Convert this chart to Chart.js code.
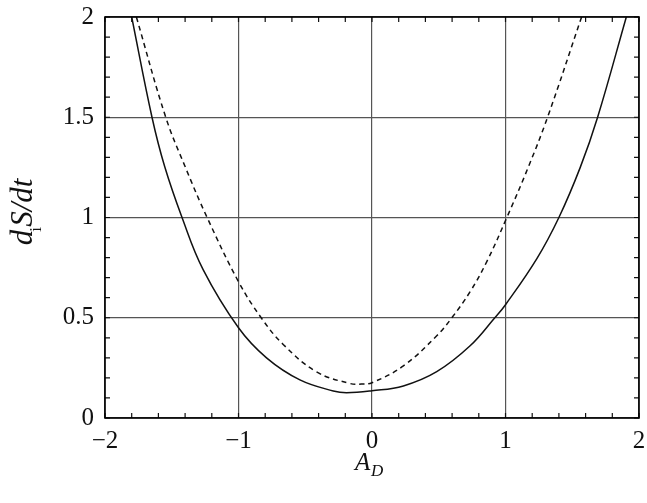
<!DOCTYPE html>
<html>
<head>
<meta charset="utf-8">
<script src="https://cdn.jsdelivr.net/npm/chart.js@4.4.1/dist/chart.umd.min.js"></script>
<style>
  html, body { margin: 0; padding: 0; background: #fff; }
  #wrap { width: 647px; height: 503px; }
</style>
</head>
<body>
<div id="wrap"><canvas id="chart" width="647" height="503"></canvas></div>
<script>
// values
const solidX = [-1.80, -1.648, -1.553, -1.423, -1.265, -1.0, -0.79, -0.54, -0.29, -0.19, 0, 0.235, 0.485, 0.735, 0.92, 1.0, 1.235, 1.40, 1.56, 1.69, 1.905];
const solidY = [2.0, 1.5, 1.254, 1.0, 0.74, 0.45, 0.30, 0.19, 0.135, 0.126, 0.136, 0.16, 0.231, 0.36, 0.5, 0.565, 0.795, 1.0, 1.25, 1.5, 2.0];
const dashX = [-1.765, -1.545, -1.40, -1.235, -1.0, -0.83, -0.665, -0.415, -0.165, -0.08, 0, 0.235, 0.485, 0.598, 0.735, 0.86, 1.01, 1.17, 1.315, 1.57];
const dashY = [2.0, 1.5, 1.254, 1.0, 0.68, 0.5, 0.367, 0.23, 0.172, 0.169, 0.176, 0.26, 0.41, 0.5, 0.63, 0.78, 1.0, 1.25, 1.5, 2.0];
const xTicks = [-2, -1, 0, 1, 2];
const yTicks = [0, 0.5, 1, 1.5, 2];

const serif = '"Liberation Serif"';

const toPoints = (xs, ys) => xs.map((x, i) => ({ x: x, y: ys[i] }));

// frame, inward ticks and the axis titles with subscripts
const framePlugin = {
    id: 'frame',
    afterDraw(chart) {
        const ctx = chart.ctx;
        const a = chart.chartArea;
        const xs = chart.scales.x;
        const ys = chart.scales.y;
        ctx.save();
        ctx.strokeStyle = '#111';
        ctx.lineWidth = 1.2;
        ctx.beginPath();
        for (let i = 0; i <= 20; i++) {
            const px = xs.getPixelForValue(-2 + i * 0.2);
            ctx.moveTo(px, a.bottom); ctx.lineTo(px, a.bottom - 5);
            ctx.moveTo(px, a.top); ctx.lineTo(px, a.top + 5);
        }
        for (let i = 0; i <= 20; i++) {
            const py = ys.getPixelForValue(i * 0.1);
            ctx.moveTo(a.left, py); ctx.lineTo(a.left + 5, py);
            ctx.moveTo(a.right, py); ctx.lineTo(a.right - 5, py);
        }
        ctx.stroke();
        ctx.lineWidth = 1.6;
        ctx.strokeStyle = '#000';
        ctx.strokeRect(a.left, a.top, a.right - a.left, a.bottom - a.top);

        ctx.fillStyle = '#111';
        ctx.textBaseline = 'alphabetic';
        // x title: A_D
        ctx.font = 'italic 25px ' + serif;
        ctx.fillText('A', 355, 470);
        ctx.font = 'italic 17px ' + serif;
        ctx.fillText('D', 371, 476);
        // y title: d_i S/dt
        ctx.font = 'italic 31px ' + serif;
        const wd = ctx.measureText('d').width;
        const ws = ctx.measureText('S/dt').width;
        const total = wd + ws + 3;
        ctx.translate(32, 212 + total / 2);
        ctx.rotate(-Math.PI / 2);
        ctx.fillText('d', 0, 0);
        ctx.font = '17px ' + serif;
        ctx.fillText('i', wd - 2, 9);
        ctx.font = 'italic 31px ' + serif;
        ctx.fillText('S/dt', wd + 3, 0);
        ctx.restore();
    }
};

new Chart(document.getElementById('chart'), {
    type: 'scatter',
    data: {
        datasets: [
            {
                data: toPoints(solidX, solidY),
                showLine: true,
                borderColor: '#111',
                borderWidth: 1.5,
                pointRadius: 0,
                tension: 0.4
            },
            {
                data: toPoints(dashX, dashY),
                showLine: true,
                borderColor: '#111',
                borderWidth: 1.5,
                borderDash: [5, 4],
                pointRadius: 0,
                tension: 0.4
            }
        ]
    },
    options: {
        responsive: false,
        animation: false,
        layout: { padding: { top: 17, right: 8, left: 0, bottom: 0 } },
        plugins: {
            legend: { display: false },
            tooltip: { enabled: false }
        },
        scales: {
            x: {
                type: 'linear',
                min: -2,
                max: 2,
                afterFit: scale => {
                    scale.height = 85;
                    scale.paddingLeft = 0;
                    scale.paddingRight = 0;
                },
                afterBuildTicks: scale => { scale.ticks = xTicks.map(v => ({ value: v })); },
                ticks: {
                    color: '#111',
                    font: { family: serif, size: 25 },
                    padding: 8,
                    maxRotation: 0,
                    callback: v => String(v).replace('-', '\u2212')
                },
                grid: { color: '#555', lineWidth: 1.2, drawTicks: false },
                border: { display: false }
            },
            y: {
                type: 'linear',
                min: 0,
                max: 2,
                afterFit: scale => {
                    scale.width = 105;
                    scale.paddingTop = 0;
                    scale.paddingBottom = 0;
                },
                afterBuildTicks: scale => { scale.ticks = yTicks.map(v => ({ value: v })); },
                ticks: {
                    color: '#111',
                    font: { family: serif, size: 25 },
                    padding: 11,
                    callback: v => String(v)
                },
                grid: { color: '#555', lineWidth: 1.2, drawTicks: false },
                border: { display: false }
            }
        }
    },
    plugins: [framePlugin]
});
</script>
</body>
</html>
